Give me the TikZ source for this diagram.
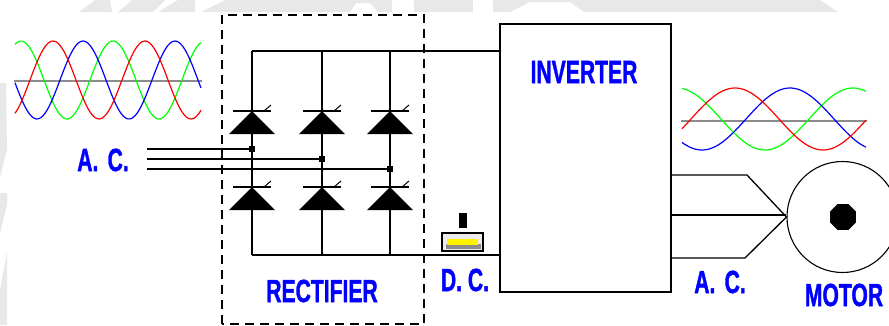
\documentclass[tikz,border=0pt]{standalone}
\usepackage{fontspec}
\setmainfont{Liberation Sans}[BoldFeatures={FakeBold=1.6}]
\usetikzlibrary{shapes.geometric,calc}
\definecolor{acblue}{RGB}{0,0,255}
\definecolor{wavegreen}{RGB}{0,255,0}
\definecolor{markgray}{RGB}{232,232,232}
\newcommand{\lbl}[1]{\scalebox{0.66}[1]{\fontsize{32}{32}\selectfont\bfseries #1}}
\tikzset{
    wire/.style={black,line width=1.3pt},
    scr/.style={fill=black,draw=none},
    tag/.style={text=acblue,inner sep=0pt},
    phase/.style={line width=1.2pt,smooth,samples=80},
    axis/.style={black!45,line width=1.4pt},
    junction/.style={fill=black,draw=none,minimum size=6pt,inner sep=0pt},
}
\begin{document}
\begin{tikzpicture}[x=1pt,y=-1pt]
        \useasboundingbox (0,0) rectangle (889,325);
        \clip (0,0) rectangle (889,325);
        % watermark
        \fill[markgray] (79,12)--(95,0)--(110,0)--(112,12)--cycle;
        \fill[markgray] (118,12)--(132,0)--(165,0)--(153,12)--cycle;
        \fill[markgray] (158,12)--(178,0)--(195,0)--(195,12)--cycle;
        \fill[markgray] (201,12)--(225,0)--(392,0)--(392,12)--(378,12)--(370,3)--(356,3)--(350,12)--cycle;
        \fill[markgray] (414,12)--(414,0)--(473,0)--(473,12)--cycle;
        \fill[markgray] (493,12)--(493,0)--(820,0)--(838,12)--(584,12)--(570,2)--(530,2)--(510,12)--cycle;
        \fill[markgray] (0,83)--(6,83)--(7,150)--(0,177)--cycle;
        \fill[markgray] (0,233)--(0,193)--(7,193)--(7,205)--cycle;
        \fill[markgray] (0,325)--(0,290)--(7,252)--(7,325)--cycle;
        % source waves
        \draw[axis] (14,81)--(202,81);
        \draw[phase,wavegreen,domain=15:201] plot (\x,{80-39*cos(3.913*(\x-21))});
        \draw[phase,acblue,domain=15:201] plot (\x,{80-39*cos(3.913*(\x-83))});
        \draw[phase,red,domain=15:201] plot (\x,{80-39*cos(3.913*(\x-53))});
        % output waves
        \draw[axis] (681,121)--(867,121);
        \draw[phase,wavegreen,domain=682:866] plot (\x,{119-31*cos(2.045*(\x-853))});
        \draw[phase,acblue,domain=682:866] plot (\x,{119-31*cos(2.045*(\x-790))});
        \draw[phase,red,domain=682:866] plot (\x,{119-31*cos(2.045*(\x-735))});
        % rectifier frame
        \draw[line width=1.4pt,dash pattern=on 9pt off 6pt] (222,324)--(222,15)--(424,15)--(424,324)--(222,324);
        % inverter
        \node[draw,wire,minimum width=171pt,minimum height=268pt,inner sep=0pt] (inv) at (585.5,158) {};
        \node[tag] (invlabel) at (584,72) {\lbl{INVERTER}};
        \coordinate (invtop) at (inv.west |- 0,51);
        \coordinate (invbot) at (inv.west |- 0,255);
        % bridge
        \foreach \col/\xx/\yy in {a/252/149,b/322/159,c/390/169}{
            \coordinate (top\col) at (\xx,51);
            \coordinate (bot\col) at (\xx,255);
            \coordinate (ac\col) at (147,\yy);
            \node[junction] (j\col) at (\xx,\yy) {};
            \draw[wire] (top\col)--(bot\col);
            \draw[wire] (ac\col)--(j\col);
            \foreach \row/\ya in {u/111,l/187}{
                \coordinate (\row\col) at (\xx,\ya);
                \fill[scr] (\row\col) -- ++(23,23) -- ++(-46,0) -- cycle;
                \draw[wire] ($(\row\col)+(-19,0)$)--($(\row\col)+(19,0)$);
                \draw[wire,line width=1pt] ($(\row\col)+(12,0)$)--($(\row\col)+(19,-6)$);
            }
        }
        \draw[wire] (topa)--(invtop);
        \draw[wire] (bota)--(invbot);
        % dc link
        \node[draw=black,line width=1.2pt,fill=black!8,minimum width=41pt,minimum height=18pt,inner sep=0pt] (choke) at (462.5,242) {};
        \node[fill=black!45,minimum width=35pt,minimum height=5pt,inner sep=0pt] (chokebase) at (463,246.5) {};
        \node[fill=yellow,minimum width=31pt,minimum height=6pt,inner sep=0pt] (chokecore) at (462.5,241.5) {};
        \node[fill=black,minimum width=8pt,minimum height=15pt,inner sep=0pt] (chokepin) at (463,220.5) {};
        % motor
        \node[draw,circle,line width=1.1pt,minimum size=111pt,inner sep=0pt] (motor) at (842.5,217) {};
        \node[regular polygon,regular polygon sides=8,fill=black,minimum size=28pt,inner sep=0pt] (shaft) at (843,217) {};
        \coordinate (feed) at (motor.west);
        \coordinate (feedm) at (feed |- 0,215);
        \draw[wire] (671,175)--(747,175)--(feed);
        \draw[wire] (671,215)--(feedm);
        \draw[wire] (671,258)--(745,258)--(feed);
        % labels
        \node[tag] (aclabel) at (103,160) {\lbl{A.\hspace{14pt}C.}};
        \node[tag] (reclabel) at (322,291) {\lbl{RECTIFIER}};
        \node[tag] (dclabel) at (465,280) {\lbl{D. C.}};
        \node[tag] (outlabel) at (720,282) {\lbl{A.\hspace{14pt}C.}};
        \node[tag] (motlabel) at (844,295) {\lbl{MOTOR}};
    \end{tikzpicture}
\end{document}
